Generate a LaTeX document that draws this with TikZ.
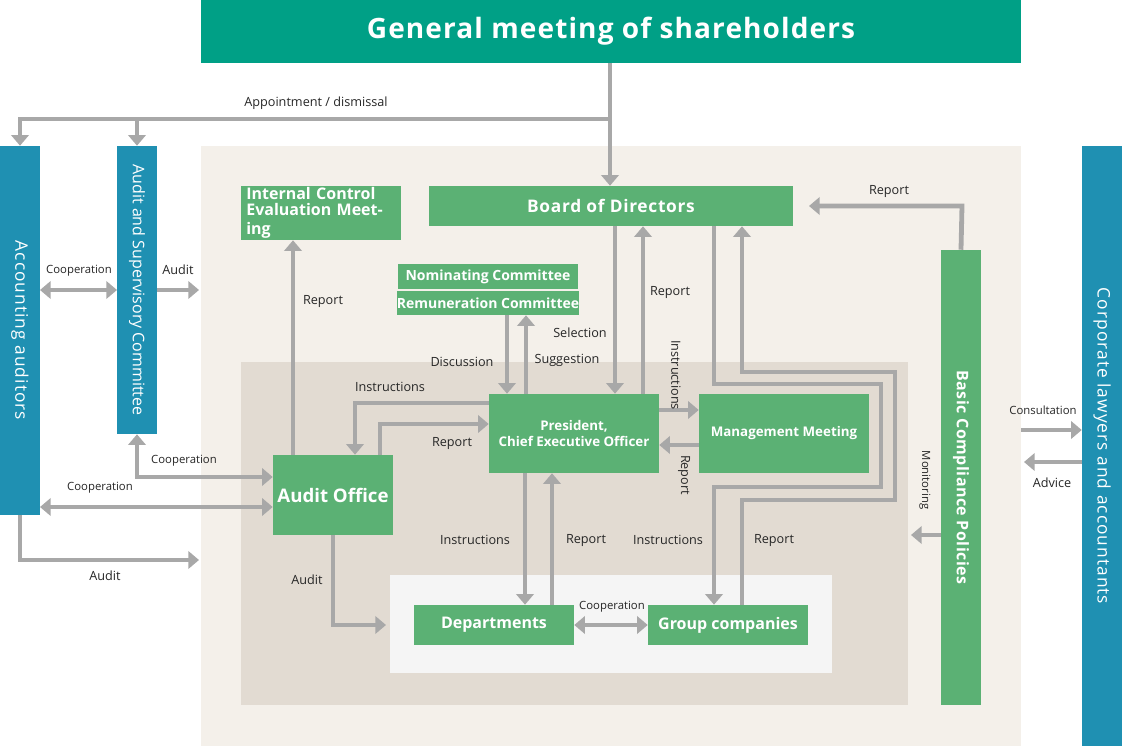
\documentclass[tikz,border=0pt]{standalone}
\usepackage{fontspec}
\setmainfont{Open Sans}
\usetikzlibrary{arrows.meta}
\definecolor{teal}{HTML}{00A086}
\definecolor{gr}{HTML}{5BB174}
\definecolor{bl}{HTML}{1F90B2}
\definecolor{bg1}{HTML}{F4F0EA}
\definecolor{bg2}{HTML}{E2DBD2}
\definecolor{bg3}{HTML}{F5F5F5}
\definecolor{ar}{HTML}{A8A8A8}
\begin{document}
\begin{tikzpicture}[x=0.75pt,y=-0.75pt,
  box/.style={fill=gr,text=white,inner sep=0pt,font=\bfseries\fontsize{12}{14}\selectfont,align=center},
  bbox/.style={fill=bl,text=white,inner sep=0pt,minimum height=30pt,font=\fontsize{13}{15}\selectfont\addfontfeatures{LetterSpace=6}},
  con/.style={draw=ar,line width=3.6pt,-{Triangle[width=13pt,length=8pt]}},
  dcon/.style={draw=ar,line width=3.6pt,{Triangle[width=13pt,length=8pt]}-{Triangle[width=13pt,length=8pt]}},
  lab/.style={font=\fontsize{9.5}{11}\selectfont,text=black!85,inner sep=1pt}]
\useasboundingbox (0,0) rectangle (1122,746);
\fill[bg1] (201,146) rectangle (1021,746);
\fill[bg2] (241,362) rectangle (908,705);
\fill[bg3] (390,575) rectangle (832,673);
% nodes
\node[fill=teal,text=white,inner sep=0pt,minimum width=615pt,minimum height=47.25pt,font=\bfseries\fontsize{21}{26}\selectfont\addfontfeatures{LetterSpace=4}] (gm) at (611,31.5) {General meeting of shareholders};
\node[bbox,minimum width=276.75pt,rotate=-90] (acc) at (20,330.5) {Accounting auditors};
\node[bbox,minimum width=216pt,rotate=-90,font=\fontsize{12}{14}\selectfont] (asc) at (137,290) {Audit and Supervisory Committee};
\node[bbox,minimum width=450pt,rotate=-90] (law) at (1102,446) {Corporate lawyers and accountants};
\node[box,minimum height=30pt,minimum width=341.25pt,rotate=-90,font=\bfseries\fontsize{12}{14}\selectfont\addfontfeatures{LetterSpace=3}] (bcp) at (961,477.5) {Basic Compliance Policies};
\node[box,minimum width=120pt,minimum height=40.5pt,align=left,text width=112pt] (icm) at (321,213) {Internal Control\\[-2pt]Evaluation Meeting};
\node[box,minimum width=273pt,minimum height=30pt,font=\bfseries\fontsize{13}{15}\selectfont\addfontfeatures{LetterSpace=4}] (bod) at (611,206) {Board of Directors};
\node[box,minimum width=135pt,minimum height=18.75pt,font=\bfseries\fontsize{10.5}{12}\selectfont] (nom) at (488,276.5) {Nominating Committee};
\node[box,minimum width=135pt,minimum height=18pt,font=\bfseries\fontsize{10.5}{12}\selectfont] (rem) at (488,303) {Remuneration Committee};
\node[box,minimum width=127.5pt,minimum height=59.25pt,font=\bfseries\fontsize{10}{12}\selectfont] (pres) at (574,433.5) {President,\\Chief Executive Officer};
\node[box,minimum width=127.5pt,minimum height=59.25pt,font=\bfseries\fontsize{10}{12}\selectfont] (mgmt) at (784,433.5) {Management Meeting};
\node[box,minimum width=90pt,minimum height=60pt,font=\bfseries\fontsize{14}{16}\selectfont] (ao) at (333,495) {Audit Office};
\node[box,minimum width=120pt,minimum height=30pt] (dep) at (494,625) {Departments};
\node[box,minimum width=120pt,minimum height=30pt] (grp) at (728,625) {Group companies};
% appointment
\coordinate (j) at (610,119);
\draw[draw=ar,line width=3.6pt] (gm.south -| j) -- (j);
\draw[con] (j) -- (20,119) -- (acc.west);
\draw[con] (137,119) -- (asc.west);
\draw[con] (j) -- (bod.north -| j);
\node[lab] at (316,103) {Appointment / dismissal};
% left side
\draw[dcon] (40,290) -- (117,290);
\node[lab,font=\fontsize{8.5}{10}\selectfont] at (79,271) {Cooperation};
\draw[con] (157,290) -- (199,290);
\node[lab] at (178,270) {Audit};
\draw[dcon] (asc.east) -- (137,477) -- (ao.west |- 0,477);
\node[lab,font=\fontsize{8.5}{10}\selectfont] at (184,461) {Cooperation};
\draw[dcon] (40,507) -- (ao.west |- 0,507);
\node[lab,font=\fontsize{8.5}{10}\selectfont] at (100,488) {Cooperation};
\draw[con] (acc.east) -- (20,560) -- (199,560);
\node[lab] at (105,576) {Audit};
% audit office
\draw[con] (ao.north -| 293,0) -- (icm.south -| 293,0);
\node[lab] at (323,301) {Report};
\draw[con] (pres.west |- 0,403) -- (355,403) -- (ao.north -| 355,0);
\node[lab] at (390,387) {Instructions};
\draw[con] (ao.north -| 380,0) -- (380,424) -- (pres.west |- 0,424);
\node[lab] at (452,443) {Report};
\draw[con] (ao.south -| 333,0) -- (333,625) -- (386,625);
\node[lab] at (307,580) {Audit};
% board / president
\draw[con] (bod.south -| 615,0) -- (pres.north -| 615,0);
\draw[con] (pres.north -| 643,0) -- (bod.south -| 643,0);
\node[lab] at (670,292) {Report};
\node[lab] at (580,333) {Selection};
\node[lab] at (567,360) {Suggestion};
\draw[con] (rem.south -| 507,0) -- (pres.north -| 507,0);
\draw[con] (pres.north -| 526,0) -- (rem.south -| 526,0);
\node[lab] at (462,362) {Discussion};
\draw[con] (pres.east |- 0,410) -- (mgmt.west |- 0,410);
\node[lab,rotate=-90] at (676,375) {Instructions};
\draw[con] (mgmt.west |- 0,445) -- (pres.east |- 0,445);
\node[lab,rotate=-90] at (684,475) {Report};
% board / group companies
\draw[con] (bod.south -| 714,0) -- (714,384) -- (881,384) -- (881,487) -- (714,487) -- (grp.north -| 714,0);
\draw[con] (grp.north -| 742,0) -- (742,500) -- (895,500) -- (895,372) -- (742,372) -- (bod.south -| 742,0);
\node[lab] at (668,540) {Instructions};
\node[lab] at (774,540) {Report};
\draw[con] (pres.south -| 525,0) -- (dep.north -| 525,0);
\draw[con] (dep.north -| 552,0) -- (pres.south -| 552,0);
\node[lab] at (475,540) {Instructions};
\node[lab] at (586,540) {Report};
\draw[dcon] (dep.east) -- (grp.west);
\node[lab,font=\fontsize{8.5}{10}\selectfont] at (612,607) {Cooperation};
% compliance
\draw[con] (bcp.west) -- (962,206) -- (809,206);
\node[lab] at (889,191) {Report};
\draw[con] (bcp.south |- 0,535) -- (911,535);
\node[lab,rotate=-90,font=\fontsize{8.5}{10}\selectfont] at (925,480) {Monitoring};
\draw[con] (1021,430) -- (law.south |- 0,430);
\node[lab,font=\fontsize{8.5}{10}\selectfont] at (1043,410) {Consultation};
\draw[con] (law.south |- 0,462) -- (1024,462);
\node[lab] at (1052,483) {Advice};
\end{tikzpicture}
\end{document}
